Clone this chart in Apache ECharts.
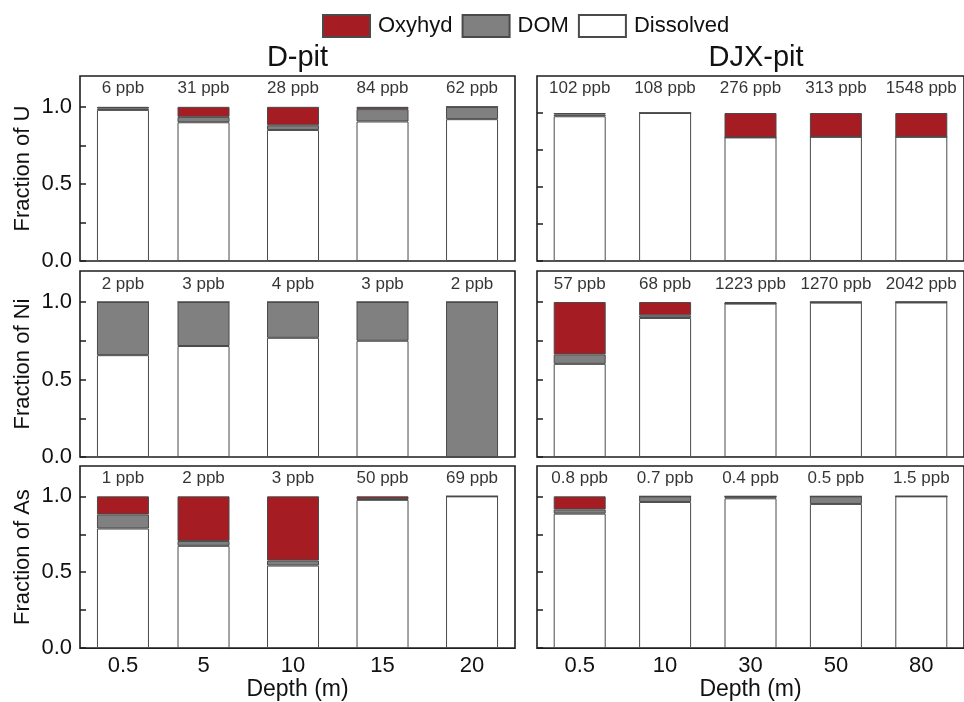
<!DOCTYPE html>
<html>
<head>
<meta charset="utf-8">
<script src="https://cdn.jsdelivr.net/npm/echarts@6/dist/echarts.min.js"></script>
<style>html,body{margin:0;padding:0;background:#fff;}#c{width:964px;height:702px;}</style>
</head>
<body>
<div id="c"></div>
<script>
// ---- Data ----
const depthD = [0.5, 5, 10, 15, 20];
const depthDJX = ['0.5', '10', '30', '50', '80'];
const elementNames = ['U', 'Ni', 'As'];
const seriesNames = ['Oxyhyd', 'DOM', 'Dissolved'];

// D-pit
const dU_dissolved = [0.98, 0.90, 0.85, 0.905, 0.92];
const dU_dom       = [0.01, 0.035, 0.03, 0.08, 0.08];
const dU_oxyhyd    = [0.01, 0.065, 0.12, 0.015, 0];
const dU_ppb       = ['6', '31', '28', '84', '62'];

const dNi_dissolved = [0.657, 0.716, 0.769, 0.75, 0];
const dNi_dom       = [0.343, 0.284, 0.231, 0.25, 1.0];
const dNi_oxyhyd    = [0, 0, 0, 0, 0];
const dNi_ppb       = ['2', '3', '4', '3', '2'];

const dAs_dissolved = [0.788, 0.674, 0.544, 0.977, 1.0];
const dAs_dom       = [0.093, 0.032, 0.033, 0.005, 0];
const dAs_oxyhyd    = [0.119, 0.294, 0.423, 0.018, 0];
const dAs_ppb       = ['1', '2', '3', '50', '69'];

// DJX-pit
const jU_dissolved = [0.978, 1.0, 0.835, 0.839, 0.839];
const jU_dom       = [0.012, 0, 0, 0, 0];
const jU_oxyhyd    = [0.01, 0, 0.165, 0.161, 0.161];
const jU_ppb       = ['102', '108', '276', '313', '1548'];

const jNi_dissolved = [0.601, 0.897, 0.99, 0.996, 0.997];
const jNi_dom       = [0.061, 0.017, 0, 0.004, 0.003];
const jNi_oxyhyd    = [0.338, 0.086, 0.01, 0, 0];
const jNi_ppb       = ['57', '68', '1223', '1270', '2042'];

const jAs_dissolved = [0.886, 0.963, 0.987, 0.95, 1.0];
const jAs_dom       = [0.028, 0.037, 0.013, 0.05, 0];
const jAs_oxyhyd    = [0.086, 0, 0, 0, 0];
const jAs_ppb       = ['0.8', '0.7', '0.4', '0.5', '1.5'];

// ---- Layout ----
const FONT = '"Liberation Sans", Arial, sans-serif';
const colors = { Oxyhyd: '#A51D23', DOM: '#808080', Dissolved: '#ffffff' };
const gridTops = [76, 271, 466];
const gridHeights = [185, 186, 187];
const yMax = [[1.2, 1.2, 1.2], [1.25, 1.2, 1.2]];
const ppbY = [[1.12, 1.117, 1.118], [1.165, 1.117, 1.118]];

const panels = [
  [
    { dis: dU_dissolved, dom: dU_dom, oxy: dU_oxyhyd, ppb: dU_ppb },
    { dis: dNi_dissolved, dom: dNi_dom, oxy: dNi_oxyhyd, ppb: dNi_ppb },
    { dis: dAs_dissolved, dom: dAs_dom, oxy: dAs_oxyhyd, ppb: dAs_ppb }
  ],
  [
    { dis: jU_dissolved, dom: jU_dom, oxy: jU_oxyhyd, ppb: jU_ppb },
    { dis: jNi_dissolved, dom: jNi_dom, oxy: jNi_oxyhyd, ppb: jNi_ppb },
    { dis: jAs_dissolved, dom: jAs_dom, oxy: jAs_oxyhyd, ppb: jAs_ppb }
  ]
];

const grid = [], xAxis = [], yAxis = [], series = [];
let gi = 0;
for (let col = 0; col < 2; col++) {
  for (let row = 0; row < 3; row++) {
    const p = panels[col][row];
    grid.push({
      left: col === 0 ? 80 : 537,
      width: col === 0 ? 435 : 438,
      top: gridTops[row],
      height: gridHeights[row],
      show: true,
      borderColor: '#1e1e1e',
      borderWidth: 1.6,
      backgroundColor: 'transparent'
    });
    const isBottom = row === 2;
    if (col === 0) {
      xAxis.push({
        type: 'value', gridIndex: gi, min: -1.9, max: 22.4,
        axisLine: { show: false, onZero: false }, axisTick: { show: false }, splitLine: { show: false },
        axisLabel: { show: isBottom, customValues: depthD, fontSize: 22, color: '#111', fontFamily: FONT, margin: 7 },
        name: isBottom ? 'Depth (m)' : '', nameLocation: 'middle', nameGap: 29,
        nameTextStyle: { fontSize: 23, color: '#111', fontFamily: FONT }
      });
    } else {
      xAxis.push({
        type: 'category', gridIndex: gi, data: depthDJX, boundaryGap: true,
        axisLine: { show: false, onZero: false }, axisTick: { show: false }, splitLine: { show: false },
        axisLabel: { show: isBottom, fontSize: 22, color: '#111', fontFamily: FONT, margin: 7 },
        name: isBottom ? 'Depth (m)' : '', nameLocation: 'middle', nameGap: 29,
        nameTextStyle: { fontSize: 23, color: '#111', fontFamily: FONT }
      });
    }
    yAxis.push({
      type: 'value', gridIndex: gi, min: 0, max: yMax[col][row],
      axisLine: { show: false, onZero: false }, splitLine: { show: false },
      axisTick: { show: true, inside: true, length: 6, customValues: [0, 0.25, 0.5, 0.75, 1.0], lineStyle: { color: '#1e1e1e', width: 1.5 } },
      axisLabel: { show: col === 0, customValues: [0, 0.5, 1.0], formatter: v => v.toFixed(1), fontSize: 22, color: '#111', fontFamily: FONT, margin: 8 },
      name: col === 0 ? 'Fraction of ' + elementNames[row] : '',
      nameLocation: 'middle', nameRotate: 90, nameGap: 46,
      nameTextStyle: { fontSize: 22, color: '#111', fontFamily: FONT }
    });
    const xs = col === 0 ? depthD : depthDJX;
    // value first (dim 0), position second (dim 1) so that stacking applies to the value
    const mk = arr => arr.map((v, i) => [v, xs[i]]);
    const stackId = 's' + gi;
    const barDefs = [
      ['Dissolved', p.dis], ['DOM', p.dom], ['Oxyhyd', p.oxy]
    ];
    barDefs.forEach(([nm, arr]) => {
      series.push({
        type: 'bar', name: nm, xAxisIndex: gi, yAxisIndex: gi, stack: stackId,
        barWidth: 52, data: mk(arr), encode: { x: 1, y: 0 },
        itemStyle: { color: colors[nm], borderColor: '#4a4a4a', borderWidth: 1 },
        emphasis: { disabled: true }, animation: false
      });
    });
    const ppb = p.ppb;
    const yl = ppbY[col][row];
    series.push({
      type: 'scatter', xAxisIndex: gi, yAxisIndex: gi, symbolSize: 1, z: 5,
      itemStyle: { color: 'rgba(0,0,0,0)' }, silent: true, animation: false,
      data: xs.map(x => [x, yl]),
      label: { show: true, position: 'inside', formatter: q => ppb[q.dataIndex] + ' ppb', fontSize: 17, color: '#000', fontFamily: FONT }
    });
    gi++;
  }
}

const chart = echarts.init(document.getElementById('c'), null, { renderer: 'canvas' });
chart.setOption({
  backgroundColor: '#fff',
  animation: false,
  legend: {
    data: seriesNames, left: 322, top: 14, itemWidth: 47, itemHeight: 22, itemGap: 9,
    padding: 0, icon: 'rect',
    textStyle: { fontSize: 22, color: '#111', fontFamily: FONT, padding: [0, 0, 0, 3] },
    selectedMode: false
  },
  graphic: [
    { type: 'text', x: 297.5, y: 58, style: { text: 'D-pit', fontSize: 29, fill: '#111', fontFamily: FONT, textAlign: 'center', textVerticalAlign: 'middle' } },
    { type: 'text', x: 756, y: 58, style: { text: 'DJX-pit', fontSize: 29, fill: '#111', fontFamily: FONT, textAlign: 'center', textVerticalAlign: 'middle' } }
  ],
  grid, xAxis, yAxis, series
});
</script>
</body>
</html>
